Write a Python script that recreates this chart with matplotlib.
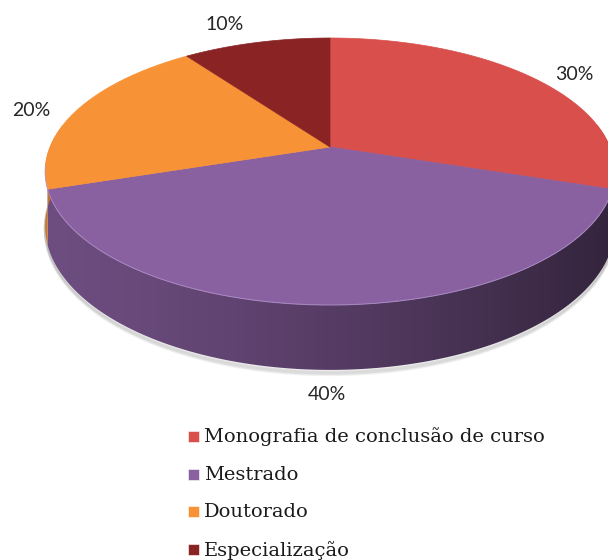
"""
python plot.py -> out.png
3D-style pie chart (perspective tilted disc) drawn with polygons.
"""
import numpy as np
import matplotlib.pyplot as plt
from matplotlib.colors import to_rgb
from matplotlib.patches import Polygon, Rectangle

labels = ["Monografia de conclusão de curso", "Mestrado", "Doutorado", "Especialização"]
values = [30, 40, 20, 10]
colors = ["#D84F4C", "#8960A0", "#F89237", "#8A2424"]

# geometry of the tilted disc (pixels)
CX, CY = 330, 147            # projected centre of the pie
A, B, P = 280, 129, 0.1835   # half width, depth scale, perspective
THICK = 53
W, H = 608, 560

fig = plt.figure(figsize=(W / 100, H / 100), dpi=100)
ax = fig.add_axes([0, 0, 1, 1])


def proj(theta, drop=0.0):
    # theta in degrees, clockwise from the far point of the disc
    t = np.radians(theta)
    u, v = np.sin(t), np.cos(t)
    s = 1.0 / (1.0 + P * v)
    return CX + A * u * s, CY - B * v * s + drop * s


total = float(sum(values))
bounds = np.concatenate([[0], np.cumsum(values) / total * 360])

# soft shadow just under the bottom rim
th = np.linspace(92, 268, 300)
for k in range(1, 6):
    xs, ys = proj(th, THICK + k * 0.8)
    ax.plot(xs, ys, color="#000000", alpha=0.05, lw=2.0, zorder=1,
            solid_capstyle="round")

# side wall (front half) with a left-to-right shading gradient
xg = np.arange(W) + 0.5
ug = np.clip((xg - CX) / A, -1, 1)
fac = 0.80 - 0.42 * ((ug + 1) / 2) ** 1.3
for i, c in enumerate(colors):
    a0, a1 = bounds[i], bounds[i + 1]
    lo, hi = max(a0, 80), min(a1, 280)
    if hi <= lo:
        continue
    t = np.linspace(lo, hi, 200)
    xa, ya = proj(t)
    xb, yb = proj(t[::-1], THICK)
    poly = Polygon(np.c_[np.r_[xa, xb], np.r_[ya, yb]], closed=True,
                   transform=ax.transData)
    rgb = np.array(to_rgb(c))
    img = np.clip(fac[None, :, None] * rgb[None, None, :], 0, 1)
    img = np.repeat(img, 4, axis=0)
    im = ax.imshow(img, extent=(0, W, H, 0), aspect="auto",
                   interpolation="bilinear", zorder=2)
    im.set_clip_path(poly)

# top face
for i, c in enumerate(colors):
    t = np.linspace(bounds[i], bounds[i + 1], 200)
    xs, ys = proj(t)
    pts = np.c_[np.r_[CX, xs], np.r_[CY, ys]]
    ax.add_patch(Polygon(pts, closed=True, facecolor=c, edgecolor=c,
                         lw=0.5, zorder=3))

# light rim at the front edge
t = np.linspace(100, 262, 300)
xs, ys = proj(t)
ax.plot(xs, ys, color="#B49AD0", lw=0.8, alpha=0.6, zorder=4)

# percentage labels
pct_pos = [(574, 74), (327, 395), (31, 110), (225, 25)]
for val, (x, y) in zip(values, pct_pos):
    ax.text(x, y, f"{val}%", ha="center", va="center", fontsize=14,
            family="Lato", color="#262626", zorder=5)

# legend
for k, (lab, c) in enumerate(zip(labels, colors)):
    y = 437 + k * 37.7
    ax.add_patch(Rectangle((188, y - 6), 11, 11, facecolor=c,
                           edgecolor="#ffffff", lw=0.4, zorder=5))
    ax.text(204, y, lab, ha="left", va="center", fontsize=14,
            family="DejaVu Serif", color="#1a1a1a", zorder=5)

ax.set_xlim(0, W)
ax.set_ylim(H, 0)
ax.axis("off")

fig.savefig("out.png", dpi=100, facecolor="white")
